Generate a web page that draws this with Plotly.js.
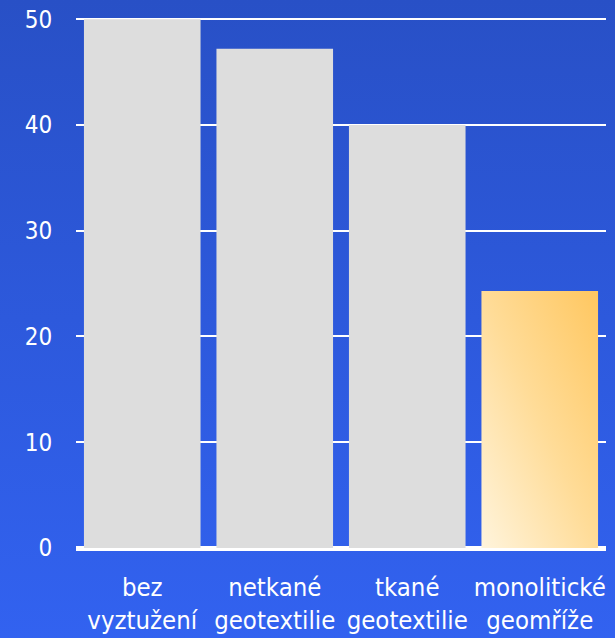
<!DOCTYPE html>
<html>
<head>
<meta charset="utf-8">
<script src="https://cdn.plot.ly/plotly-3.0.1.min.js"></script>
<style>
  html, body { margin: 0; padding: 0; }
  body {
    width: 615px; height: 638px; overflow: hidden;
    background: linear-gradient(to bottom, #2850c6 0%, #2d59dc 50%, #3262f0 100%);
  }
  #chart { width: 615px; height: 638px; }
</style>
</head>
<body>
<div id="chart"></div>
<script>
// Reinforcement types and their measured values
const categories = ['bez<br>vyztužení', 'netkané<br>geotextilie', 'tkané<br>geotextilie', 'monolitické<br>geomříže'];
const values = [50, 47.2, 40, 24.3];
const yTicks = [0, 10, 20, 30, 40, 50];

const barColors = ['#dddddd', '#dddddd', '#dddddd', '#ffd88a'];

const trace = {
  type: 'bar',
  x: categories,
  y: values,
  width: 0.88,
  marker: { color: barColors, line: { width: 0 } },
  hoverinfo: 'none'
};

const layout = {
  width: 615,
  height: 638,
  margin: { l: 76, r: 9, t: 16, b: 90 },
  paper_bgcolor: 'rgba(0,0,0,0)',
  plot_bgcolor: 'rgba(0,0,0,0)',
  showlegend: false,
  font: { family: 'DejaVu Sans Condensed, DejaVu Sans, sans-serif', color: '#ffffff', size: 24 },
  xaxis: {
    type: 'category',
    range: [-0.5, 3.5],
    showgrid: false,
    showline: false,
    ticks: 'outside',
    ticklen: 16,
    tickcolor: 'rgba(0,0,0,0)',
    tickfont: { size: 25.5, color: '#ffffff' },
    fixedrange: true
  },
  yaxis: {
    range: [0, 50.3],
    tickvals: yTicks,
    ticktext: yTicks.map(String),
    showgrid: true,
    gridcolor: '#ffffff',
    gridwidth: 2,
    zeroline: true,
    zerolinecolor: '#ffffff',
    zerolinewidth: 5,
    showline: false,
    ticks: 'outside',
    ticklen: 18,
    tickcolor: 'rgba(0,0,0,0)',
    tickfont: { size: 24, color: '#ffffff' },
    layer: 'above traces',
    fixedrange: true
  }
};

Plotly.newPlot('chart', [trace], layout, { staticPlot: true, displayModeBar: false }).then(function (gd) {
  // Give the last bar a diagonal cream-to-amber gradient fill
  const svgNS = 'http://www.w3.org/2000/svg';
  const svg = gd.querySelector('svg.main-svg');
  let defs = svg.querySelector('defs');
  if (!defs) { defs = document.createElementNS(svgNS, 'defs'); svg.insertBefore(defs, svg.firstChild); }
  const grad = document.createElementNS(svgNS, 'linearGradient');
  grad.setAttribute('id', 'barGold');
  grad.setAttribute('x1', '0'); grad.setAttribute('y1', '1');
  grad.setAttribute('x2', '1'); grad.setAttribute('y2', '0');
  [['0', '#fff4dc'], ['0.5', '#ffdc98'], ['1', '#ffc760']].forEach(function (s) {
    const stop = document.createElementNS(svgNS, 'stop');
    stop.setAttribute('offset', s[0]);
    stop.setAttribute('stop-color', s[1]);
    grad.appendChild(stop);
  });
  defs.appendChild(grad);
  const paths = gd.querySelectorAll('.barlayer .point path');
  const last = paths[paths.length - 1];
  if (last) last.style.fill = 'url(#barGold)';
});
</script>
</body>
</html>
